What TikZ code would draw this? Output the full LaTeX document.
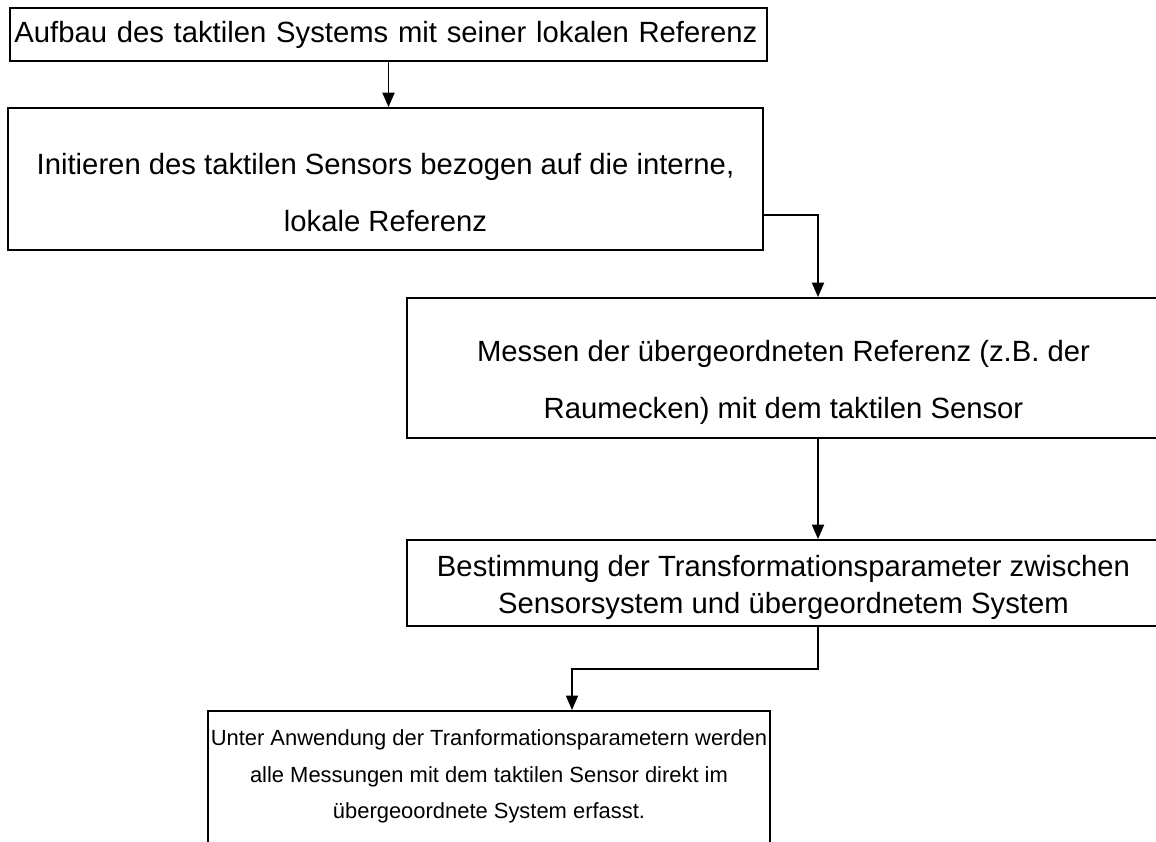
\documentclass[tikz,border=0pt]{standalone}
\usepackage{fontspec}
\setmainfont{Liberation Sans}
\usepackage{tikz}
\tikzset{
    stepbox/.style={rectangle,draw=black,line width=1.3pt,text centered,inner sep=0pt,font=\fontsize{20.8}{40.5}\selectfont},
    lowbox/.style={stepbox,font=\fontsize{20.8}{26.5}\selectfont},
    smallbox/.style={stepbox,font=\fontsize{15.6}{26}\selectfont},
    flow/.style={line width=1.3pt,->},
}
\usetikzlibrary{arrows.meta}
\usetikzlibrary{positioning}

\begin{document}
\begin{tikzpicture}[x=0.025cm,y=-0.025cm,>={Triangle[length=0.36cm,width=0.3cm]}]
\clip (0,0) rectangle (1156,841);
\node[stepbox,minimum width=18.925cm,minimum height=1.325cm,text width=18.7cm,align=left](b1) at (388.5,34.5) {Aufbau des taktilen Systems mit seiner lokalen Referenz};
\node[stepbox,minimum width=18.875cm,minimum height=3.55cm,align=center](b2) at (385.5,179) {\rule{0pt}{34pt}Initieren des taktilen Sensors bezogen auf die interne,\\ lokale Referenz};
\node[stepbox,minimum width=18.825cm,minimum height=3.5cm,align=center](b3) at (783.5,368) {\rule{0pt}{35pt}Messen der übergeordneten Referenz (z.B. der\\ Raumecken) mit dem taktilen Sensor};
\node[lowbox,minimum width=18.825cm,minimum height=2.15cm,align=center](b4) at (783.5,583) {\rule{0pt}{21pt}Bestimmung der Transformationsparameter zwischen\\ Sensorsystem und übergeordnetem System};
\node[smallbox,minimum width=14.05cm,inner ysep=0.47cm,align=center,anchor=north](b5) at (489,710) {Unter Anwendung der Tranformationsparametern werden\\ alle Messungen mit dem taktilen Sensor direkt im\\ übergeoordnete System erfasst.\rule[-40pt]{0pt}{1pt}};
% bends of the connectors
\coordinate (k1) at (818,215);
\coordinate (k2) at (818,669);
\coordinate (k3) at (572,669);
\draw[flow] (b1.south) -- (b1.south |- b2.north);
\draw[flow] (b2.east |- k1) -- (k1) -- (k1 |- b3.north);
\draw[flow] (k1 |- b3.south) -- (k1 |- b4.north);
\draw[flow] (k2 |- b4.south) -- (k2) -- (k3) -- (k3 |- b5.north);
\end{tikzpicture}
\end{document}
